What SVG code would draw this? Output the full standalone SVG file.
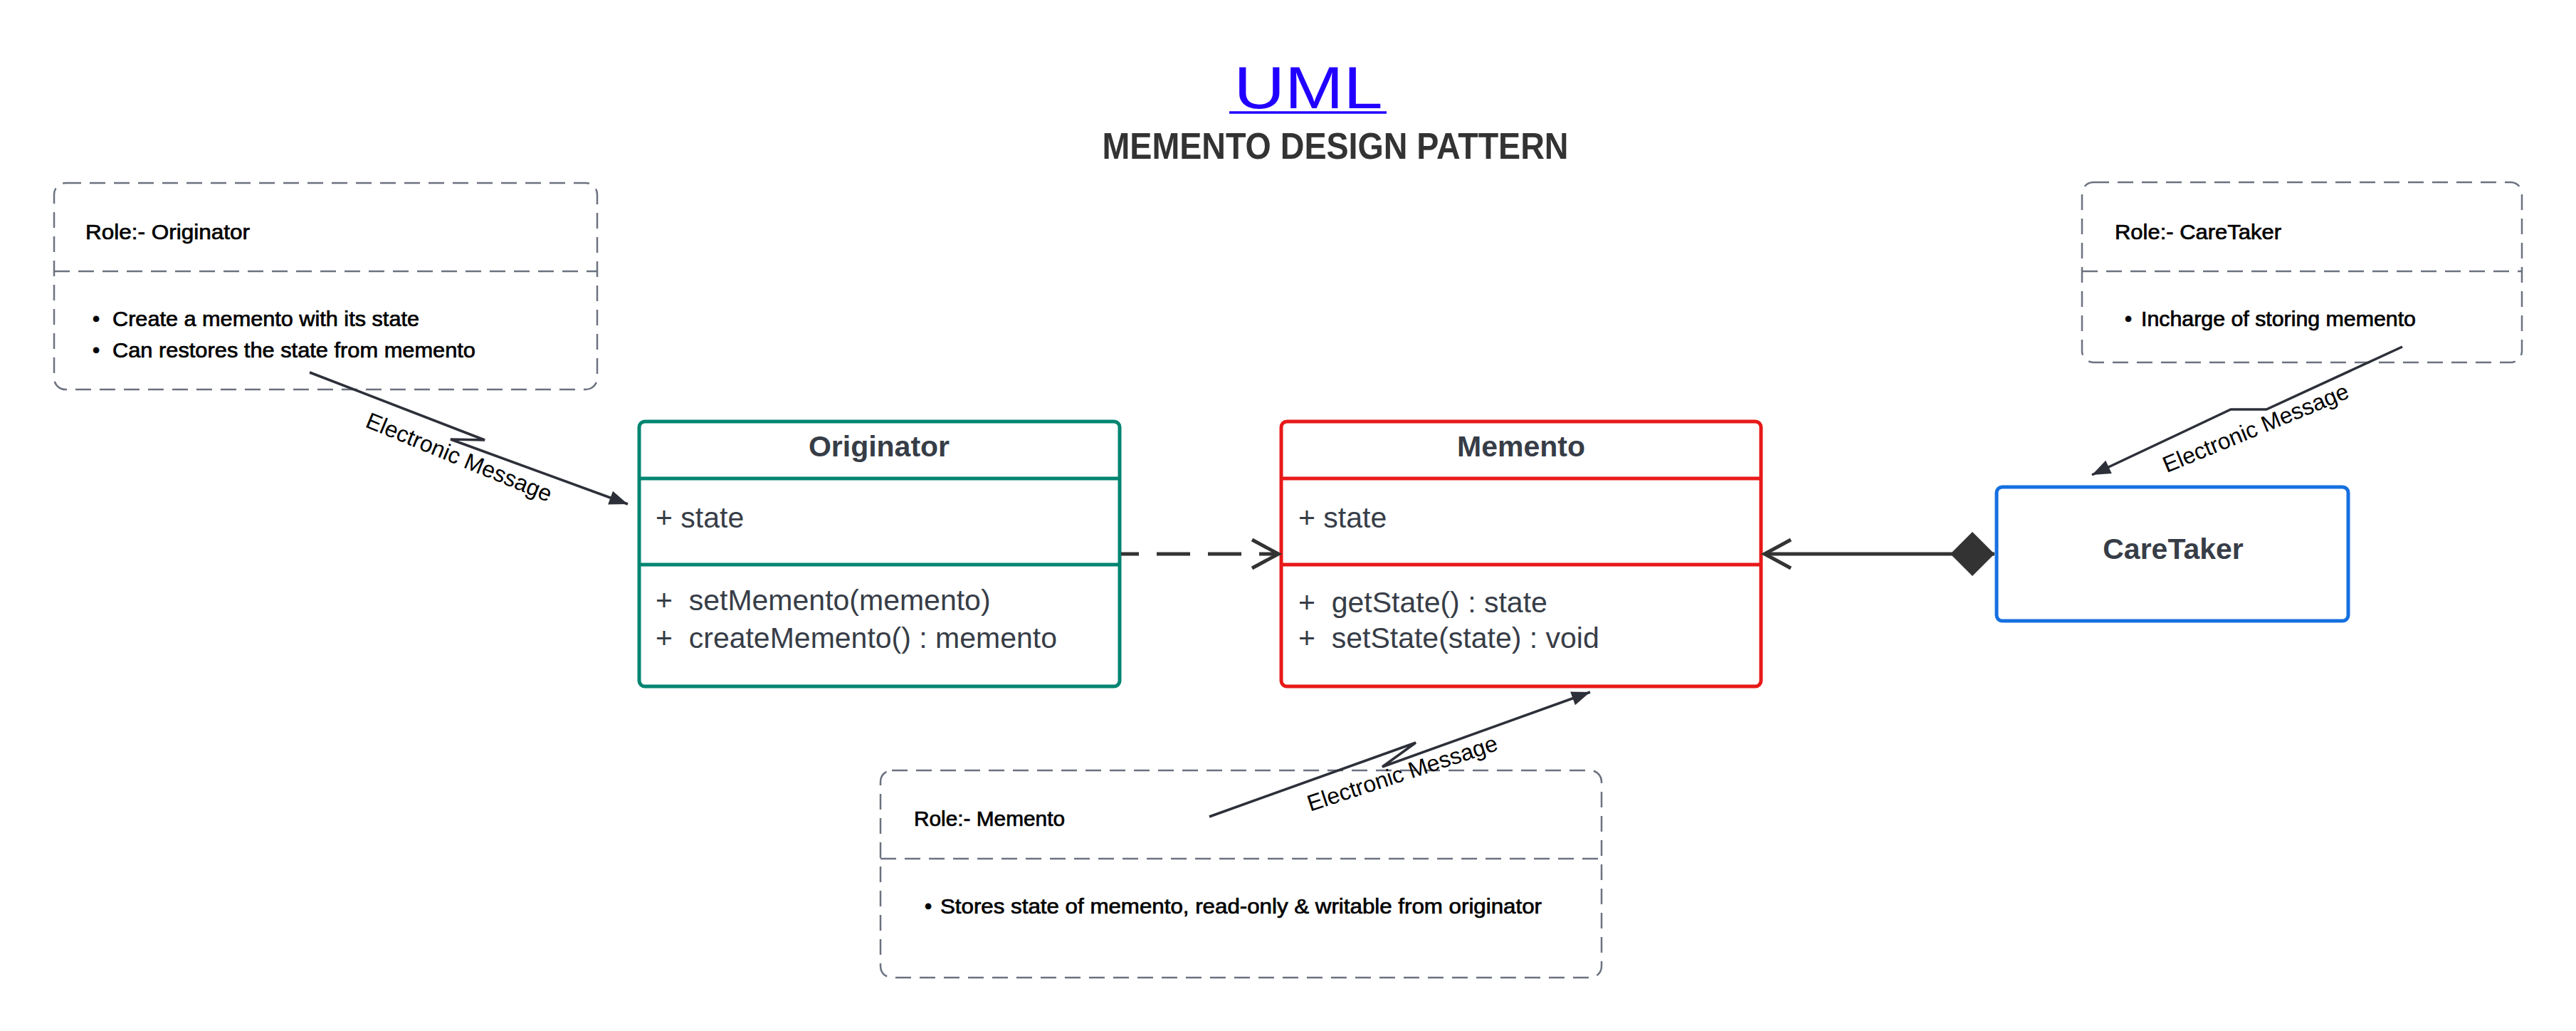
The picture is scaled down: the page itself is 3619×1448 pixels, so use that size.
<svg xmlns="http://www.w3.org/2000/svg" width="3619" height="1448" viewBox="0 0 3619 1448">
<style>
.bg{fill:#ffffff}
.note{fill:#ffffff;stroke:#6b7280;stroke-width:2.5;stroke-dasharray:22 12}
.ndiv{stroke:#6b7280;stroke-width:2.5;stroke-dasharray:22 12;fill:none}
.nt{font-family:"Liberation Sans",Arial,sans-serif;font-size:29px;fill:#000000;stroke:#000000;stroke-width:0.7}
.cls{fill:#ffffff;stroke-width:5}
.hd{font-family:"Liberation Sans",Arial,sans-serif;font-size:41px;font-weight:bold;fill:#373d47;text-anchor:middle}
.at{font-family:"Liberation Sans",Arial,sans-serif;font-size:41px;fill:#373d47}
.conn{fill:none;stroke:#333333;stroke-width:5}
.msg{fill:none;stroke:#2d3039;stroke-width:3.5}
.lbl{font-family:"Liberation Sans",Arial,sans-serif;font-size:32px;fill:#000000;text-anchor:middle;dominant-baseline:central}
</style>
<defs>
<marker id="filled" markerUnits="userSpaceOnUse" markerWidth="30" markerHeight="22" refX="26" refY="10" orient="auto" overflow="visible">
<path d="M0,0 L26,10 L0,20 Z" fill="#2d3039"/>
</marker>
<marker id="open" markerUnits="userSpaceOnUse" markerWidth="44" markerHeight="46" refX="37" refY="20" orient="auto" overflow="visible">
<path d="M0,0 L37,20 L0,40" fill="none" stroke="#333333" stroke-width="5"/>
</marker>
<marker id="diamond" markerUnits="userSpaceOnUse" markerWidth="64" markerHeight="64" refX="0" refY="31" orient="auto" overflow="visible">
<path d="M0,31 L31,0 L62,31 L31,62 Z" fill="#333333"/>
</marker>
</defs>
<rect class="bg" x="0" y="0" width="3619" height="1448"/>

<g id="title">
<text x="1838" y="152" font-family="Liberation Sans, Arial, sans-serif" font-size="84" fill="#2200ff" text-anchor="middle" textLength="209" lengthAdjust="spacingAndGlyphs">UML</text>
<line x1="1727" y1="158" x2="1948" y2="158" stroke="#2200ff" stroke-width="3.5"/>
<text x="1876" y="223" font-family="Liberation Sans, Arial, sans-serif" font-size="52" font-weight="bold" fill="#333333" text-anchor="middle" textLength="655" lengthAdjust="spacingAndGlyphs">MEMENTO DESIGN PATTERN</text>
</g>

<g id="note-originator">
<rect class="note" x="76" y="257" width="763" height="290" rx="16"/>
<line class="ndiv" x1="76" y1="381" x2="839" y2="381"/>
<text class="nt" x="120" y="336" textLength="231" lengthAdjust="spacingAndGlyphs">Role:- Originator</text>
<text class="nt" x="130" y="458">•</text>
<text class="nt" x="158" y="458" textLength="431" lengthAdjust="spacingAndGlyphs">Create a memento with its state</text>
<text class="nt" x="130" y="502">•</text>
<text class="nt" x="158" y="502" textLength="510" lengthAdjust="spacingAndGlyphs">Can restores the state from memento</text>
</g>

<g id="note-caretaker">
<rect class="note" x="2925" y="256" width="618" height="253" rx="16"/>
<line class="ndiv" x1="2925" y1="381" x2="3543" y2="381"/>
<text class="nt" x="2971" y="336" textLength="234" lengthAdjust="spacingAndGlyphs">Role:- CareTaker</text>
<text class="nt" x="2985" y="458">•</text>
<text class="nt" x="3008" y="458" textLength="386" lengthAdjust="spacingAndGlyphs">Incharge of storing memento</text>
</g>

<g id="note-memento">
<rect class="note" x="1237" y="1082" width="1013" height="291" rx="16"/>
<line class="ndiv" x1="1237" y1="1206" x2="2250" y2="1206"/>
<text class="nt" x="1284" y="1160" textLength="212" lengthAdjust="spacingAndGlyphs">Role:- Memento</text>
<text class="nt" x="1299" y="1283">•</text>
<text class="nt" x="1321" y="1283" textLength="845" lengthAdjust="spacingAndGlyphs">Stores state of memento, read-only &amp; writable from originator</text>
</g>

<g id="originator">
<rect class="cls" x="898" y="592" width="675" height="372" rx="8" stroke="#008571"/>
<line x1="898" y1="672" x2="1573" y2="672" stroke="#008571" stroke-width="5"/>
<line x1="898" y1="793" x2="1573" y2="793" stroke="#008571" stroke-width="5"/>
<text class="hd" x="1235" y="641">Originator</text>
<text class="at" x="921" y="741">+ state</text>
<text class="at" x="921" y="857" xml:space="preserve">+  setMemento(memento)</text>
<text class="at" x="921" y="910" xml:space="preserve">+  createMemento() : memento</text>
</g>

<g id="memento">
<rect class="cls" x="1800" y="592" width="674" height="372" rx="8" stroke="#e81919"/>
<line x1="1800" y1="672" x2="2474" y2="672" stroke="#e81919" stroke-width="5"/>
<line x1="1800" y1="793" x2="2474" y2="793" stroke="#e81919" stroke-width="5"/>
<text class="hd" x="2137" y="641">Memento</text>
<text class="at" x="1824" y="741">+ state</text>
<text class="at" x="1824" y="860" xml:space="preserve">+  getState() : state</text>
<text class="at" x="1824" y="910" xml:space="preserve">+  setState(state) : void</text>
</g>

<g id="caretaker">
<rect class="cls" x="2805" y="684" width="494" height="188" rx="8" stroke="#1570e0"/>
<text class="hd" x="3053" y="785">CareTaker</text>
</g>

<g id="connectors">
<line class="conn" x1="1575" y1="778" x2="1796" y2="778" stroke-dasharray="47 25" stroke-dashoffset="22" marker-end="url(#open)"/>
<line class="conn" x1="2802" y1="778" x2="2479" y2="778" marker-start="url(#diamond)" marker-end="url(#open)"/>
<polyline class="msg" points="435,523 681,618 633,617 882,708" marker-end="url(#filled)"/>
<text class="lbl" transform="translate(645,642) rotate(22.4)">Electronic Message</text>
<polyline class="msg" points="3375,487 3184,575 3134,575 2939,667" marker-end="url(#filled)"/>
<text class="lbl" transform="translate(3169,601) rotate(-22.4)">Electronic Message</text>
<polyline class="msg" points="1699,1147 1989,1043 1942,1077 2234,972" marker-end="url(#filled)"/>
<text class="lbl" transform="translate(1970,1086) rotate(-18.1)">Electronic Message</text>
</g>
</svg>
